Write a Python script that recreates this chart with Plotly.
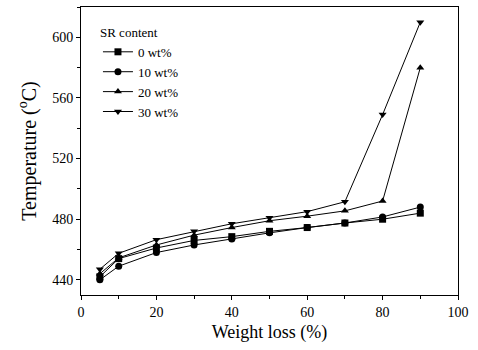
import plotly.graph_objects as go

weight_loss = [5, 10, 20, 30, 40, 50, 60, 70, 80, 90]
series_names = ["0 wt%", "10 wt%", "20 wt%", "30 wt%"]
temp_0 = [442, 454, 461, 466, 468.5, 472, 474.5, 477.5, 480, 484]
temp_10 = [440, 449, 458, 463, 467, 471, 474.5, 477.5, 481.5, 488]
temp_20 = [444, 454.5, 463, 469.5, 474.5, 479, 482, 485.5, 492, 580]
temp_30 = [447, 457.5, 466.5, 472, 477, 481, 485, 491.5, 549, 610]
symbols = ["square", "circle", "triangle-up", "triangle-down"]

FONT = "Liberation Serif"

fig = go.Figure()
for name, ys, sym in zip(series_names, [temp_0, temp_10, temp_20, temp_30], symbols):
    fig.add_trace(go.Scatter(
        x=weight_loss, y=ys, name=name, mode="lines+markers",
        line=dict(color="black", width=1),
        marker=dict(symbol=sym, color="black", size=7),
    ))

axis_common = dict(
    showline=True, linecolor="black", linewidth=1, mirror=True,
    ticks="outside", ticklen=4, tickcolor="black", tickwidth=1,
    showgrid=False, zeroline=False,
    tickfont=dict(family=FONT, size=14, color="black"),
)
fig.update_xaxes(range=[0, 100], dtick=20, tick0=0,
                 minor=dict(dtick=10, ticks="outside", ticklen=3, tickcolor="black"),
                 title=dict(text="Weight loss (%)", font=dict(family=FONT, size=18, color="black"), standoff=6),
                 **axis_common)
fig.update_yaxes(range=[430, 620], dtick=40, tick0=440,
                 minor=dict(dtick=20, ticks="outside", ticklen=3, tickcolor="black"),
                 title=dict(text="Temperature (<sup>o</sup>C)", font=dict(family=FONT, size=20, color="black"), standoff=10),
                 **axis_common)
fig.update_layout(
    width=478, height=350,
    margin=dict(l=81, r=20, t=7, b=55),
    plot_bgcolor="white", paper_bgcolor="white",
    font=dict(family=FONT, color="black"),
    showlegend=True,
    legend=dict(x=0.045, y=0.955, xanchor="left", yanchor="top",
                title=dict(text="SR content", font=dict(family=FONT, size=13, color="black")),
                font=dict(family=FONT, size=13, color="black"),
                bgcolor="rgba(0,0,0,0)", tracegroupgap=0, itemwidth=30),
)
fig.write_html("out.html", config={"displayModeBar": False},
               post_script="document.body.style.margin='0';")
